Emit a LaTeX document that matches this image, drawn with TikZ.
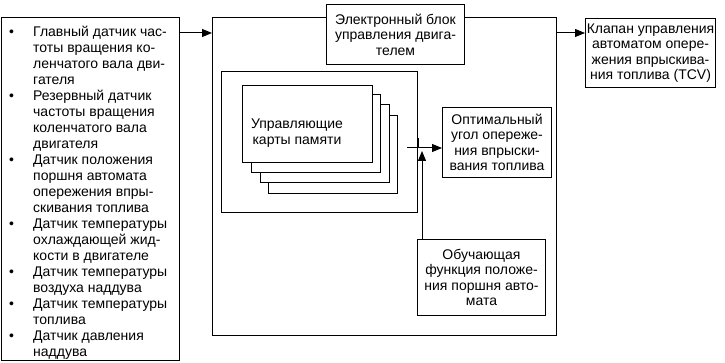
\documentclass[tikz,border=0pt]{standalone}
\usepackage{fontspec}
\setmainfont{Liberation Sans}
\usetikzlibrary{arrows.meta}
\begin{document}
\begin{tikzpicture}[x=1pt,y=-1pt,
  every node/.style={font=\fontsize{14}{15.5}\selectfont},
  bx/.style={draw,line width=1pt,fill=white,inner sep=0pt,anchor=north west},
  txt/.style={align=center,inner sep=0pt},
  arr/.style={line width=1pt,-{Triangle[length=10pt,width=8pt]}},
  ln/.style={line width=1pt}]
\useasboundingbox (0,0) rectangle (725,363);
% sensors
\node[bx,minimum width=178pt,minimum height=343pt] (sens) at (1,17) {};
\node[inner sep=0pt,anchor=north west] (senstext) at (9,25) {\fontsize{14}{16}\selectfont
\begin{tabular}{@{}p{24pt}@{}l@{}}
\textbullet & Главный датчик час-\\
 & тоты вращения ко-\\
 & ленчатого вала дви-\\
 & гателя\\
\textbullet & Резервный датчик\\
 & частоты вращения\\
 & коленчатого вала\\
 & двигателя\\
\textbullet & Датчик положения\\
 & поршня автомата\\
 & опережения впры-\\
 & скивания топлива\\
\textbullet & Датчик температуры\\
 & охлаждающей жид-\\
 & кости в двигателе\\
\textbullet & Датчик температуры\\
 & воздуха наддува\\
\textbullet & Датчик температуры\\
 & топлива\\
\textbullet & Датчик давления\\
 & наддува
\end{tabular}};
% ECU
\node[bx,minimum width=344pt,minimum height=318pt] (ecu) at (212,17) {};
\node[bx,minimum width=138pt,minimum height=60pt] (title) at (326,4) {};
\node[txt] (titletext) at (title.center) {Электронный блок\\управления двига-\\телем};
% maps
\node[bx,minimum width=196pt,minimum height=141pt] (maps) at (221,71) {};
\node[bx,minimum width=129pt,minimum height=78pt] (card4) at (268,115) {};
\node[bx,minimum width=129pt,minimum height=78pt] (card3) at (259.5,104.5) {};
\node[bx,minimum width=129pt,minimum height=78pt] (card2) at (251,94.5) {};
\node[bx,minimum width=130pt,minimum height=77pt] (card1) at (242,85) {};
\node[txt] (cardtext) at (297,133) {Управляющие\\карты памяти};
% optimal
\node[bx,minimum width=109pt,minimum height=70pt] (opt) at (442,107) {};
\node[txt] (opttext) at (opt.center) {Оптимальный\\угол опереже-\\ния впрыски-\\вания топлива};
% learning
\node[bx,minimum width=128pt,minimum height=76pt] (learn) at (417,239) {};
\node[txt] (learntext) at (learn.center) {Обучающая\\функция положе-\\ния поршня авто-\\мата};
% TCV
\node[bx,minimum width=130pt,minimum height=69pt] (tcv) at (585,18) {};
\node[txt] (tcvtext) at (tcv.center) {Клапан управления\\автоматом опере-\\жения впрыскива-\\ния топлива (TCV)};
% connectors
\coordinate (y33) at (0,33);
\coordinate (hs) at (407,148);
\coordinate (vt) at (422,151);
\coordinate (tk1) at (418.5,138);
\coordinate (tk2) at (418.5,148);
\draw[arr] (sens.east |- y33) -- (ecu.west |- y33);
\draw[arr] (ecu.east |- y33) -- (tcv.west |- y33);
\draw[arr] (hs) -- (opt.west |- hs);
\draw[arr] (learn.north -| vt) -- (vt);
\draw[ln] (tk1) -- (tk2);
\end{tikzpicture}
\end{document}
